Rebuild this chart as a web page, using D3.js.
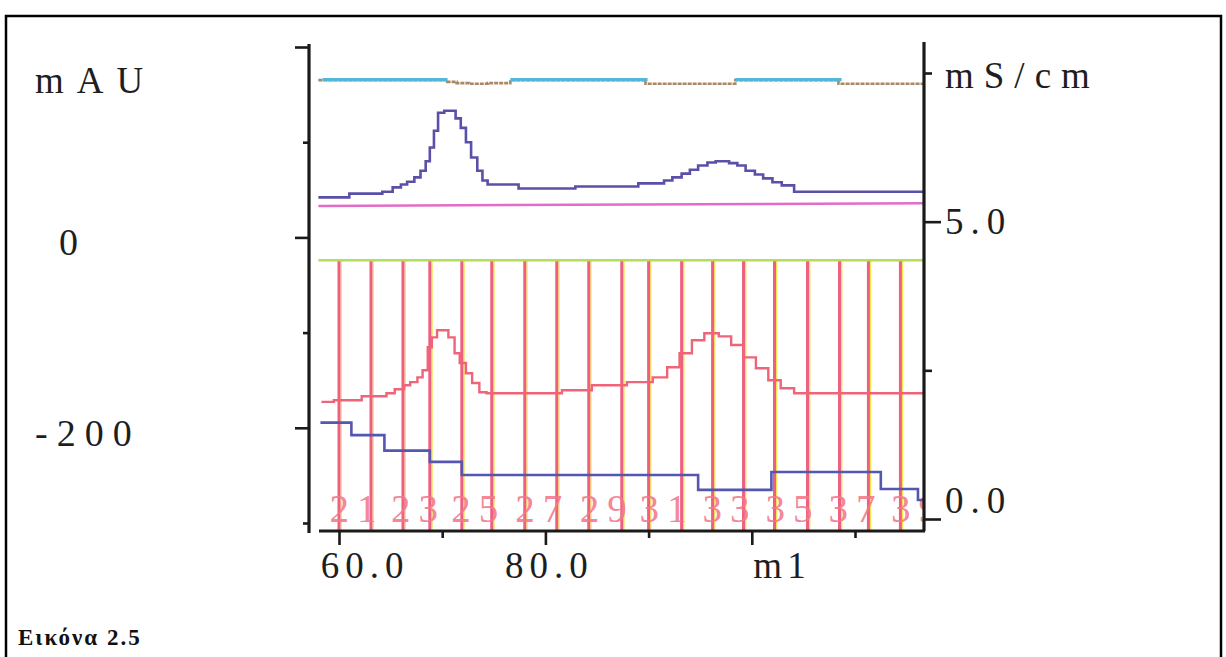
<!DOCTYPE html>
<html>
<head>
<meta charset="utf-8">
<script src="https://cdn.jsdelivr.net/npm/d3@7"></script>
<style>
  body { margin: 0; background: #fff; }
  text { font-family: "Liberation Serif", "DejaVu Serif", serif; }
</style>
</head>
<body>
<svg id="chart" width="1226" height="657"></svg>
<script>
// --- data ---
// UV trace (mAU, left axis), stepped
const uvMl  = [58.0, 61.0, 64.2, 65.2, 66.0, 66.6, 67.3, 67.9, 68.4, 68.8, 69.2, 69.6, 70.2, 71.3, 71.8, 72.3, 72.8, 73.4, 73.9, 74.4, 77.4, 82.9, 89.0, 91.5, 92.3, 93.2, 94.0, 94.8, 95.7, 96.5, 97.8, 98.6, 99.4, 100.3, 101.1, 102.0, 102.9, 104.1, 116.7];
const uvMau = [42, 46, 48, 52.5, 55.5, 58.5, 63, 70, 80, 94.4, 112, 131, 133, 125, 115, 100, 84, 70, 59.8, 55.6, 51.4, 53.5, 56.7, 59.8, 63, 67, 71, 75.6, 78.7, 80, 78, 75.6, 70, 66, 62, 58, 54.6, 48, 48];

// second UV trace (mAU), the red one
const uv2Ml  = [58.3, 59.5, 62.2, 64.6, 65.4, 66.3, 66.9, 67.6, 68.1, 68.6, 69.0, 69.5, 70.6, 71.2, 71.7, 72.3, 72.9, 73.6, 74.3, 81.6, 84.5, 87.9, 90.4, 91.8, 93.0, 94.2, 95.4, 96.8, 98.0, 99.2, 100.4, 101.6, 102.8, 104.1, 116.7];
const uv2Mau = [-172.8, -171, -166.8, -163.7, -159.5, -155.3, -152, -147, -139.6, -115.4, -105, -97.6, -105, -121.7, -132, -142.7, -153, -162.6, -163.7, -160.5, -155.3, -152, -147, -136.4, -121.7, -108, -100.7, -104, -113, -126, -137.5, -150, -158.4, -163.7, -163.7];

// flat magenta trace (mAU)
const magMl  = [58.0, 116.7];
const magMau = [33, 36];

// green baseline above the fractions (mAU)
const greenMl  = [58.0, 116.7];
const greenMau = [-24, -24];

// conductivity (mS/cm, right axis)
const condMl  = [58.0, 70.5, 71.4, 72.6, 74.4, 76.6, 89.7, 98.4, 108.4, 116.7];
const condVal = [7.38, 7.35, 7.33, 7.32, 7.33, 7.38, 7.32, 7.38, 7.32, 7.32];

// cyan segments on top of conductivity
const cyanStart = [58.4, 76.6, 98.4];
const cyanEnd   = [70.5, 89.9, 108.7];
const cyanVal   = 7.39;

// lower blue step trace (right axis)
const stepMl  = [58.2, 61.2, 64.4, 68.8, 71.9, 94.8, 101.9, 112.5, 116.1, 116.7];
const stepVal = [1.62, 1.41, 1.15, 0.96, 0.74, 0.49, 0.79, 0.505, 0.32, 0.32];

// fraction marks
const fracMl  = [60.0, 63.1, 66.2, 68.8, 71.9, 74.8, 78.0, 81.1, 84.2, 87.4, 90.0, 93.2, 96.2, 99.2, 102.2, 105.4, 108.5, 111.3, 114.4];
const fracNum = [21, 22, 23, 24, 25, 26, 27, 28, 29, 30, 31, 32, 33, 34, 35, 36, 37, 38, 39];

// axes
const xMajor = [60, 80, 100];
const xMinor = [70, 90, 110];
const xLabels = ["60.0", "80.0"];
const leftMajor = [200, 0, -200];
const leftMinor = [100, -100, -300];
const leftLabels = ["0", "-200"];
const leftLabelVals = [0, -200];
const rightMajor = [5, 0];
const rightMinor = [7.5, 2.5];
const rightLabels = ["5.0", "0.0"];

const svg = d3.select("#chart");

svg.append("rect").attr("width", 1226).attr("height", 657).attr("fill", "#fff");
// page frame
svg.append("rect").attr("x", 6).attr("y", 16).attr("width", 1215).attr("height", 660)
  .attr("fill", "none").attr("stroke", "#000").attr("stroke-width", 2.5);

const x = d3.scaleLinear().domain([60, 110]).range([339, 855]);
const yL = d3.scaleLinear().domain([-300, 200]).range([523, 47]);
const yR = d3.scaleLinear().domain([0, 7.5]).range([519, 73]);

const plotL = 318, plotR = 923, plotT = 40, plotB = 530;

svg.append("clipPath").attr("id", "clip")
  .append("rect").attr("x", plotL).attr("y", plotT).attr("width", plotR - plotL).attr("height", plotB - plotT);

const plot = svg.append("g").attr("clip-path", "url(#clip)");

// fraction lines: pink with thin yellow edge
const fracTop = yL(greenMau[0]);
plot.selectAll("line.fy").data(fracMl).enter().append("line")
  .attr("x1", d => x(d) + 2.2).attr("x2", d => x(d) + 2.2)
  .attr("y1", fracTop).attr("y2", plotB)
  .attr("stroke", "#f3e44a").attr("stroke-width", 1.3);
plot.selectAll("line.fp").data(fracMl).enter().append("line")
  .attr("x1", d => x(d)).attr("x2", d => x(d))
  .attr("y1", fracTop).attr("y2", plotB)
  .attr("stroke", "#ef5f82").attr("stroke-width", 3);

// fraction numbers on odd fractions
const fracNext = fracMl.map((d, i) => i < fracMl.length - 1 ? fracMl[i + 1] : d + 3.1);
plot.selectAll("text.fn").data(fracNum.map((n, i) => ({n, a: fracMl[i], b: fracNext[i]})).filter(d => d.n % 2 === 1))
  .enter().append("text")
  .attr("x", d => (x(d.a) + x(d.b)) / 2 + 2)
  .attr("y", 522)
  .attr("text-anchor", "middle")
  .attr("font-size", 39)
  .attr("letter-spacing", 8)
  .attr("fill", "#f2788a")
  .attr("fill-opacity", 0.9)
  .text(d => d.n);

// green line
const lineL = d3.line().x(d => x(d[0])).y(d => yL(d[1]));
plot.append("path").datum(d3.zip(greenMl, greenMau))
  .attr("d", lineL).attr("fill", "none").attr("stroke", "#b5dc5a").attr("stroke-width", 2.5);

// magenta flat line
plot.append("path").datum(d3.zip(magMl, magMau))
  .attr("d", lineL).attr("fill", "none").attr("stroke", "#e36cc8").attr("stroke-width", 2.5);

// UV traces
const stepL = d3.line().curve(d3.curveStepAfter).x(d => x(d[0])).y(d => yL(d[1]));
plot.append("path").datum(d3.zip(uvMl, uvMau))
  .attr("d", stepL).attr("fill", "none").attr("stroke", "#5a50a8").attr("stroke-width", 2.6);
plot.append("path").datum(d3.zip(uv2Ml, uv2Mau))
  .attr("d", stepL).attr("fill", "none").attr("stroke", "#ef6478").attr("stroke-width", 2.4);

// right axis traces
const stepR = d3.line().curve(d3.curveStepAfter).x(d => x(d[0])).y(d => yR(d[1]));
plot.append("path").datum(d3.zip(stepMl, stepVal))
  .attr("d", stepR).attr("fill", "none").attr("stroke", "#5556b0").attr("stroke-width", 2.6);

plot.append("path").datum(d3.zip(condMl, condVal))
  .attr("d", stepR).attr("fill", "none").attr("stroke", "#a98865").attr("stroke-width", 2.6)
  .attr("stroke-dasharray", "4,1");
plot.selectAll("line.cy").data(cyanStart).enter().append("line")
  .attr("x1", d => x(d)).attr("x2", (d, i) => x(cyanEnd[i]))
  .attr("y1", yR(cyanVal)).attr("y2", yR(cyanVal))
  .attr("stroke", "#55b6d8").attr("stroke-width", 3.2);

// axis lines
const axisColor = "#1a1a1a";
svg.append("line").attr("x1", 309).attr("x2", 309).attr("y1", 44).attr("y2", 533)
  .attr("stroke", axisColor).attr("stroke-width", 3.2);
svg.append("line").attr("x1", 924).attr("x2", 924).attr("y1", 42).attr("y2", 531)
  .attr("stroke", axisColor).attr("stroke-width", 3.2);
svg.append("line").attr("x1", 319).attr("x2", 925).attr("y1", 531).attr("y2", 531)
  .attr("stroke", axisColor).attr("stroke-width", 3.2);

function styleAxis(g) {
  g.select(".domain").remove();
  g.selectAll(".tick line").attr("stroke", axisColor).attr("stroke-width", 2.6);
  g.selectAll(".tick text").remove();
}

// left axis ticks
svg.append("g").attr("transform", "translate(309,0)")
  .call(d3.axisLeft(yL).tickValues(leftMajor).tickSize(14)).call(styleAxis);
svg.append("g").attr("transform", "translate(309,0)")
  .call(d3.axisLeft(yL).tickValues(leftMinor).tickSize(6)).call(styleAxis);
// right axis ticks
svg.append("g").attr("transform", "translate(924,0)")
  .call(d3.axisRight(yR).tickValues(rightMajor).tickSize(17)).call(styleAxis);
svg.append("g").attr("transform", "translate(924,0)")
  .call(d3.axisRight(yR).tickValues(rightMinor).tickSize(8)).call(styleAxis);
// bottom axis ticks
svg.append("g").attr("transform", "translate(0,531)")
  .call(d3.axisBottom(x).tickValues(xMajor).tickSize(14)).call(styleAxis);
svg.append("g").attr("transform", "translate(0,531)")
  .call(d3.axisBottom(x).tickValues(xMinor).tickSize(7)).call(styleAxis);

const ink = "#1e1e1e";
// left labels
svg.append("text").attr("x", 35).attr("y", 93).attr("font-size", 37).attr("letter-spacing", 13)
  .attr("fill", ink).text("mAU");
svg.selectAll("text.ll").data(leftLabels).enter().append("text")
  .attr("x", d => d === "0" ? 59 : 35)
  .attr("y", (d, i) => yL(leftLabelVals[i]) + 18)
  .attr("font-size", 38).attr("letter-spacing", 9).attr("fill", ink)
  .text(d => d);

// right labels
svg.append("text").attr("x", 945).attr("y", 88).attr("font-size", 37).attr("letter-spacing", 10)
  .attr("fill", ink).text("mS/cm");
svg.selectAll("text.rl").data(rightLabels).enter().append("text")
  .attr("x", 945)
  .attr("y", (d, i) => yR(rightMajor[i]) + (rightMajor[i] === 0 ? -6 : 12))
  .attr("font-size", 37).attr("letter-spacing", 7).attr("fill", ink)
  .text(d => d);

// bottom labels
svg.selectAll("text.xl").data(xLabels).enter().append("text")
  .attr("x", (d, i) => x(xMajor[i]) + (i === 0 ? 26 : 4))
  .attr("y", 578)
  .attr("text-anchor", "middle")
  .attr("font-size", 37).attr("letter-spacing", 6).attr("fill", ink)
  .text(d => d);
svg.append("text").attr("x", 782).attr("y", 578).attr("text-anchor", "middle")
  .attr("font-size", 37).attr("letter-spacing", 5).attr("fill", ink).text("m1");

// caption
svg.append("text").attr("x", 18).attr("y", 645).attr("font-size", 23).attr("font-weight", "bold")
  .attr("letter-spacing", 2).attr("fill", "#111").text("Εικόνα 2.5");
</script>
</body>
</html>
